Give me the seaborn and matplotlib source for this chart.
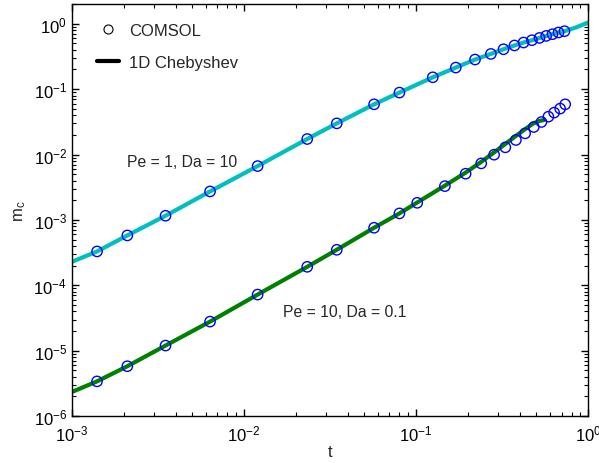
import numpy as np
import pandas as pd
import seaborn as sns
import matplotlib.pyplot as plt
from matplotlib.lines import Line2D

# COMSOL points, Pe = 1, Da = 10
t_up = [0.0014, 0.0021, 0.0035, 0.00635, 0.0120, 0.0233, 0.0346, 0.057, 0.080,
        0.125, 0.170, 0.220, 0.272, 0.322, 0.373, 0.421, 0.471, 0.521, 0.570,
        0.620, 0.672, 0.728]
m_up = [3.3e-4, 5.8e-4, 1.16e-3, 2.73e-3, 6.67e-3, 0.0173, 0.030, 0.0587, 0.0887,
        0.152, 0.214, 0.284, 0.346, 0.408, 0.466, 0.517, 0.561, 0.608, 0.653,
        0.693, 0.736, 0.770]

# COMSOL points, Pe = 10, Da = 0.1
t_lo = [0.0014, 0.0021, 0.0035, 0.00635, 0.0120, 0.0233, 0.0346, 0.057, 0.080,
        0.1015, 0.147, 0.194, 0.239, 0.284, 0.330, 0.380, 0.430, 0.483, 0.535,
        0.587, 0.634, 0.687, 0.735]
m_lo = [3.4e-6, 5.8e-6, 1.2e-5, 2.79e-5, 7.23e-5, 1.92e-4, 3.5e-4, 7.6e-4, 1.26e-3,
        1.83e-3, 3.29e-3, 5.1e-3, 7.33e-3, 9.96e-3, 0.0129, 0.0167, 0.0211, 0.0264,
        0.0315, 0.0380, 0.0438, 0.0505, 0.0587]

# 1D Chebyshev curves
tc_up = [0.001, 0.0014, 0.0021, 0.0035, 0.00635, 0.0120, 0.0233, 0.0346, 0.057,
         0.080, 0.125, 0.170, 0.220, 0.272, 0.322, 0.373, 0.421, 0.471, 0.521,
         0.570, 0.620, 0.672, 0.728, 0.85, 1.0]
mc_up = [2.29e-4, 3.3e-4, 5.8e-4, 1.16e-3, 2.73e-3, 6.67e-3, 0.0173, 0.030, 0.0587,
         0.0887, 0.152, 0.214, 0.284, 0.346, 0.408, 0.466, 0.517, 0.561, 0.608,
         0.653, 0.693, 0.736, 0.770, 0.88, 1.05]

tc_lo = [0.001, 0.0014, 0.0021, 0.0035, 0.00635, 0.0120, 0.0233, 0.0346, 0.057,
         0.080, 0.1015, 0.147, 0.194, 0.235, 0.284, 0.335, 0.380, 0.421, 0.478,
         0.52, 0.55]
mc_lo = [2.34e-6, 3.4e-6, 5.8e-6, 1.2e-5, 2.79e-5, 7.23e-5, 1.92e-4, 3.5e-4, 7.6e-4,
         1.26e-3, 1.85e-3, 3.35e-3, 5.3e-3, 7.5e-3, 0.0108, 0.0150, 0.0193, 0.0235,
         0.0298, 0.0327, 0.0337]

sns.set_theme(style="ticks")
plt.rcParams['font.family'] = ['Liberation Sans', 'DejaVu Sans']
plt.rcParams['mathtext.fontset'] = 'custom'
plt.rcParams['mathtext.rm'] = 'Liberation Sans'
plt.rcParams['mathtext.it'] = 'Liberation Sans:italic'

fig = plt.figure(figsize=(5.99, 4.64), dpi=100)
ax = fig.add_axes([0.120, 0.101, 0.862, 0.888])

sns.lineplot(x=tc_up, y=mc_up, color=(0, 0.75, 0.75), lw=3, ax=ax, sort=False)
sns.lineplot(x=tc_lo, y=mc_lo, color=(0, 0.5, 0), lw=3, ax=ax, sort=False)
sns.scatterplot(x=t_up, y=m_up, marker='o', s=55, facecolors='none',
                edgecolor='blue', linewidth=1, ax=ax, zorder=3)
sns.scatterplot(x=t_lo, y=m_lo, marker='o', s=55, facecolors='none',
                edgecolor='blue', linewidth=1, ax=ax, zorder=3)

ax.set_xscale('log')
ax.set_yscale('log')
ax.set_xlim(1e-3, 1)
ax.set_ylim(1e-6, 2)
ax.set_yticks([1e-6, 1e-5, 1e-4, 1e-3, 1e-2, 1e-1, 1e0])

ax.tick_params(which='both', direction='in', top=True, right=True,
               labelsize=12, colors='black')
ax.tick_params(which='major', length=5, width=1)
ax.tick_params(which='minor', length=3, width=0.8)
ax.tick_params(axis='x', pad=5)
for s in ax.spines.values():
    s.set_color('black')
    s.set_linewidth(1)

ax.set_xlabel('t', fontsize=12, labelpad=1)
ax.set_ylabel(r'm$_\mathregular{c}$', fontsize=12, labelpad=4)

ax.text(0.00209, 0.0078, 'Pe = 1, Da = 10', fontsize=11.3, va='center')
ax.text(0.0169, 4.0e-5, 'Pe = 10, Da = 0.1', fontsize=11.3, va='center')

handles = [Line2D([], [], marker='o', ls='', mfc='none', mec='black', ms=6.5, mew=0.8),
           Line2D([], [], color='black', lw=3)]
ax.legend(handles, ['COMSOL', '1D Chebyshev'], loc='upper left', frameon=False,
          fontsize=12, handlelength=1.3, handletextpad=0.6, labelspacing=1.0,
          bbox_to_anchor=(0.02, 0.99))

fig.savefig('out.png', dpi=100)
